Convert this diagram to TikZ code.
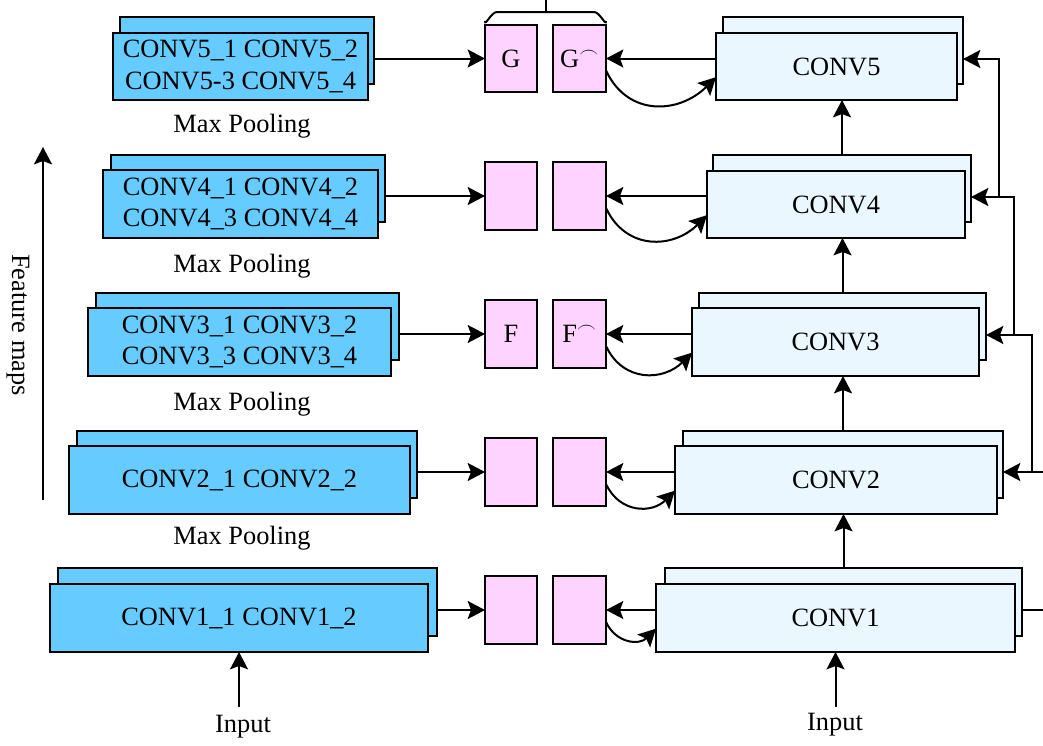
\documentclass[tikz,border=0pt]{standalone}
\usepackage{fontspec}
\setmainfont{Liberation Serif}
\usetikzlibrary{arrows.meta}
\definecolor{lblue}{HTML}{66CCFF}
\definecolor{rblue}{HTML}{EBF7FE}
\definecolor{pinkb}{HTML}{FFD3FF}
\newcommand\mkbox[7]{\node[#2, minimum width={(#5-#3)*0.75pt}, minimum height={(#6-#4)*0.75pt}] (#1) at ({(#3+#5)/2},{(#4+#6)/2}) {#7};}
\tikzset{
  every node/.style={font=\fontsize{19.8}{23.5}\selectfont},
  boxbase/.style={draw=black, line width=1.5pt, inner sep=0pt, outer sep=0pt, align=center},
  lb/.style={boxbase, fill=lblue},
  rb/.style={boxbase, fill=rblue},
  pk/.style={boxbase, fill=pinkb},
  arr/.style={-{Stealth[length=13pt,width=13.5pt,inset=2.5pt]}, line width=1.5pt},
  ln/.style={line width=1.5pt},
  lbl/.style={inner sep=0pt}
}
\begin{document}
\begin{tikzpicture}[x=0.75pt,y=-0.75pt]
\useasboundingbox (0,0) rectangle (1043,746);
% left column
\mkbox{l5b}{lb}{120}{17}{374}{84}{}
\mkbox{l5f}{lb}{113}{33}{368}{100}{CONV5\_1 CONV5\_2\\CONV5-3 CONV5\_4}
\mkbox{l4b}{lb}{111}{155}{385}{222}{}
\mkbox{l4f}{lb}{103}{170}{378}{238}{CONV4\_1 CONV4\_2\\CONV4\_3 CONV4\_4}
\mkbox{l3b}{lb}{96}{293}{399}{360}{}
\mkbox{l3f}{lb}{88}{308}{391}{376}{CONV3\_1 CONV3\_2\\CONV3\_3 CONV3\_4}
\mkbox{l2b}{lb}{77}{431}{417}{498}{}
\mkbox{l2f}{lb}{69}{446}{410}{514}{CONV2\_1 CONV2\_2}
\mkbox{l1b}{lb}{58}{568}{437}{636}{}
\mkbox{l1f}{lb}{50}{584}{428}{652}{CONV1\_1 CONV1\_2}
% max pooling labels
\node[lbl] (mp5) at (242,126) {Max Pooling};
\node[lbl] (mp4) at (242,266) {Max Pooling};
\node[lbl] (mp3) at (242,404) {Max Pooling};
\node[lbl] (mp2) at (242,538) {Max Pooling};
% pink boxes
\mkbox{p5a}{pk}{485}{25}{537}{92}{G}
\mkbox{p5b}{pk}{553}{25}{606}{92}{G$^{\frown}$}
\mkbox{p4a}{pk}{485}{162}{537}{230}{}
\mkbox{p4b}{pk}{553}{162}{606}{230}{}
\mkbox{p3a}{pk}{485}{300}{537}{368}{F}
\mkbox{p3b}{pk}{553}{300}{606}{368}{F$^{\frown}$}
\mkbox{p2a}{pk}{485}{438}{537}{506}{}
\mkbox{p2b}{pk}{553}{438}{606}{506}{}
\mkbox{p1a}{pk}{485}{576}{537}{644}{}
\mkbox{p1b}{pk}{553}{576}{606}{644}{}
% bracket
\draw[ln] (485,21) to[out=-90,in=180] (497,12) -- (594,12) to[out=0,in=-90] (606,21);
\draw[ln] (545.5,12) -- (545.5,0);
% right column
\mkbox{r5b}{rb}{723}{17}{963}{84}{}
\mkbox{r5f}{rb}{716}{33}{957}{100}{CONV5}
\mkbox{r4b}{rb}{713}{155}{971}{222}{}
\mkbox{r4f}{rb}{707}{171}{965}{238}{CONV4}
\mkbox{r3b}{rb}{699}{293}{986}{360}{}
\mkbox{r3f}{rb}{692}{308}{979}{376}{CONV3}
\mkbox{r2b}{rb}{683}{431}{1003}{498}{}
\mkbox{r2f}{rb}{675}{446}{997}{514}{CONV2}
\mkbox{r1b}{rb}{665}{568}{1022}{636}{}
\mkbox{r1f}{rb}{656}{584}{1015}{652}{CONV1}
% left -> pink, right -> pink, curved
\foreach \i in {1,...,5}{
  \draw[arr] (l\i b.east |- p\i a) -- (p\i a.west);
  \draw[arr] (r\i f.west |- p\i b) -- (p\i b.east);
  \draw[arr] ([yshift=-9pt]p\i b.east) to[out=-65,in=-135,looseness=1.2] ([yshift=-8pt]r\i f.west);
}
% vertical arrows right column
\foreach \i/\j in {1/2,2/3,3/4,4/5}{
  \draw[arr] (r\i b.north) -- (r\i b.north |- r\j f.south);
}
% inputs
\node[lbl] (in1) at (243,727) {Input};
\node[lbl] (in2) at (835,725) {Input};
\draw[arr] (l1f.south |- 0,707) -- (l1f.south);
\draw[arr] (r1f.south |- 0,707) -- (r1f.south);
% right side connectors
\coordinate (e1) at (1043,610);
\coordinate (e2) at (1043,472);
\coordinate (j2) at (1032,472);
\coordinate (k3) at (1032,335);
\coordinate (j3) at (1014,335);
\coordinate (k4) at (1014,197);
\coordinate (j4) at (999,197);
\coordinate (k5) at (999,59);
\draw[ln] (r1b.east |- e1) -- (e1);
\draw[arr] (e2) -- (r2b.east |- e2);
\draw[arr] (j2) -- (k3) -- (r3b.east |- k3);
\draw[arr] (j3) -- (k4) -- (r4b.east |- k4);
\draw[arr] (j4) -- (k5) -- (r5b.east |- k5);
% feature maps
\node[lbl, rotate=-90] (fm) at (18,325) {Feature maps};
\coordinate (fa) at (43,500);
\coordinate (fb) at (43,147);
\draw[arr] (fa) -- (fb);
\end{tikzpicture}
\end{document}
